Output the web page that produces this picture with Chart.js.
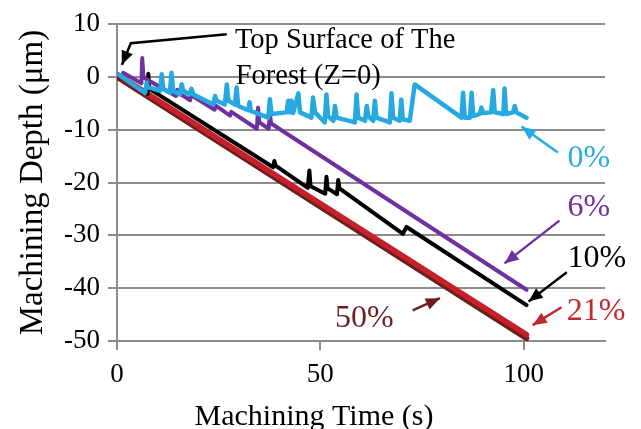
<!DOCTYPE html>
<html>
<head>
<meta charset="utf-8">
<script src="https://cdn.jsdelivr.net/npm/chart.js@4.4.0/dist/chart.umd.min.js"></script>
<style>
  body { margin: 0; background: #fff; }
  canvas { display: block; }
</style>
</head>
<body>
<canvas id="depthChart" width="641" height="429"></canvas>
<script>
// values: time (s) and depth (um) per curve
const yTicks = [-50, -40, -30, -20, -10, 0, 10];
const xTicks = [0, 50, 100];

// 0%
const time0 = [0.3, 6.9, 7.3, 7.6, 10.6, 11.0, 11.4, 13.0, 13.4, 13.8, 15.5, 15.9, 16.3, 17.9, 18.3, 18.8,
  23.7, 24.1, 24.5, 26.5, 27.0, 27.4, 29.0, 29.4, 29.8, 32.3, 32.6, 32.9, 37.2, 37.6, 38.0, 41.7, 42.1, 42.5,
  42.9, 43.3, 44.6, 45.0, 47.8, 48.2, 48.7, 51.1, 51.5, 51.9, 53.2, 53.6, 54.0, 58.5, 58.9, 59.3, 61.0, 61.4,
  61.8, 63.0, 63.4, 63.8, 67.1, 67.5, 67.9, 69.5, 69.9, 70.3, 72.0, 73.2, 84.7, 85.1, 85.5, 86.8, 87.2, 87.6,
  89.2, 89.6, 90.0, 92.0, 92.5, 92.9, 95.0, 95.3, 95.7, 97.4, 97.8, 98.2, 100.7];
const depth0 = [0.5, -3.0, -1.1, -1.9, -2.6, 0.5, -2.3, -3.0, 0.8, -2.6, -3.3, -1.4, -2.6, -3.3, -2.3, -3.3,
  -5.2, -3.6, -4.5, -5.2, -1.4, -4.5, -5.2, -2.0, -5.5, -6.3, -4.8, -6.4, -7.7, -4.2, -7.0, -6.7, -4.5, -6.7,
  -4.5, -6.8, -3.1, -6.7, -7.7, -3.9, -6.7, -8.6, -3.3, -7.4, -8.3, -5.5, -7.7, -8.6, -3.3, -7.7, -8.3, -5.5,
  -7.4, -8.3, -4.5, -7.7, -8.6, -3.1, -7.7, -8.3, -4.3, -8.0, -8.3, -1.4, -7.7, -3.0, -7.7, -7.7, -3.0, -7.4,
  -7.0, -5.8, -6.8, -6.7, -2.5, -6.7, -7.0, -2.2, -7.0, -6.7, -5.5, -6.7, -7.7];

// 6%
const time6 = [1.5, 6.0, 6.2, 6.5, 14.5, 14.8, 15.1, 18.0, 18.3, 18.6, 24.0, 24.3, 27.8, 28.1, 34.4, 34.7, 35.0,
  37.3, 37.6, 37.9, 100.7];
const depth6 = [0.8, -1.2, 3.6, -0.1, -3.6, -2.4, -3.0, -4.4, -2.2, -3.6, -6.2, -5.4, -7.3, -6.6, -9.8, -5.8, -8.6,
  -9.8, -7.0, -8.8, -40.3];

// 10%
const time10 = [0, 7.5, 7.7, 7.9, 38.4, 38.7, 39.0, 46.9, 47.3, 47.6, 51.2, 51.5, 51.8, 54.1, 54.4, 54.7, 70.3, 71.2, 100.7];
const depth10 = [0.5, -3.2, 0.6, -2.2, -17.1, -15.9, -16.8, -21.0, -17.7, -20.7, -22.1, -18.9, -21.1, -22.2, -19.5, -21.1, -29.7, -28.4, -43.2];

// 21%
const time21 = [0, 100.7];
const depth21 = [0.5, -48.8];

// 50%
const time50 = [0, 100.7];
const depth50 = [0.0, -49.5];

function pts(t, d) {
    return t.map(function (v, i) { return { x: v, y: d[i] }; });
}

const serif = '"Liberation Serif", "Times New Roman", serif';

// text labels and arrows drawn on top of the plot
const notes = {
    id: 'notes',
    afterDraw: function (chart) {
        const ctx = chart.ctx;
        const X = function (v) { return chart.scales.x.getPixelForValue(v); };
        const Y = function (v) { return chart.scales.y.getPixelForValue(v); };

        function arrow(path, color) {
            ctx.save();
            ctx.strokeStyle = color;
            ctx.fillStyle = color;
            ctx.lineWidth = 2.5;
            ctx.beginPath();
            path.forEach(function (p, i) {
                if (i === 0) ctx.moveTo(X(p[0]), Y(p[1]));
                else ctx.lineTo(X(p[0]), Y(p[1]));
            });
            const a = path[path.length - 2], b = path[path.length - 1];
            const x1 = X(a[0]), y1 = Y(a[1]), x2 = X(b[0]), y2 = Y(b[1]);
            const ang = Math.atan2(y2 - y1, x2 - x1);
            const len = 14, half = 6;
            const bx = x2 - len * Math.cos(ang), by = y2 - len * Math.sin(ang);
            ctx.stroke();
            ctx.beginPath();
            ctx.moveTo(x2, y2);
            ctx.lineTo(bx + half * Math.sin(ang), by - half * Math.cos(ang));
            ctx.lineTo(bx - half * Math.sin(ang), by + half * Math.cos(ang));
            ctx.closePath();
            ctx.fill();
            ctx.restore();
        }

        function text(str, x, y, color, size) {
            ctx.save();
            ctx.font = size + 'px ' + serif;
            ctx.fillStyle = color;
            ctx.textAlign = 'left';
            ctx.textBaseline = 'alphabetic';
            ctx.fillText(str, X(x), Y(y));
            ctx.restore();
        }

        text('Top Surface of The', 29.0, 5.5, '#000', 28.5);
        text('Forest (Z=0)', 29.2, -1.3, '#000', 28.5);
        arrow([[27.0, 8.1], [3.4, 6.4], [1.2, 2.3]], '#000');

        text('0%', 110.8, -17.0, '#29abe2', 32);
        arrow([[108.4, -14.3], [99.5, -9.4]], '#29abe2');
        text('6%', 110.8, -26.4, '#7030a0', 32);
        arrow([[108.8, -27.2], [95.3, -35.3]], '#7030a0');
        text('10%', 110.8, -36.0, '#000', 32);
        arrow([[110.6, -37.0], [101.2, -42.5]], '#000');
        text('21%', 110.6, -46.0, '#c1272d', 32);
        arrow([[109.3, -43.6], [102.2, -47.0]], '#c1272d');
        text('50%', 53.6, -47.4, '#6b1f1f', 32);
        arrow([[72.7, -44.2], [79.4, -41.9]], '#6b1f1f');

        // axis titles
        ctx.save();
        ctx.fillStyle = '#000';
        ctx.textAlign = 'center';
        ctx.textBaseline = 'alphabetic';
        ctx.font = '30px ' + serif;
        ctx.fillText('Machining Time (s)', 314, 425);
        ctx.translate(42, (chart.chartArea.top + chart.chartArea.bottom) / 2);
        ctx.rotate(-Math.PI / 2);
        ctx.font = '33px ' + serif;
        ctx.fillText('Machining Depth (μm)', 0, 0);
        ctx.restore();
    }
};

const ctx = document.getElementById('depthChart').getContext('2d');
const depthChart = new Chart(ctx, {
    type: 'scatter',
    data: {
        datasets: [
            { label: '0%', data: pts(time0, depth0), borderColor: '#25a9e0', borderWidth: 4.5 },
            { label: '6%', data: pts(time6, depth6), borderColor: '#7030a0', borderWidth: 4 },
            { label: '10%', data: pts(time10, depth10), borderColor: '#000000', borderWidth: 4 },
            { label: '21%', data: pts(time21, depth21), borderColor: '#c8202a', borderWidth: 5.5 },
            { label: '50%', data: pts(time50, depth50), borderColor: '#6b1f1f', borderWidth: 5.5 }
        ].map(function (ds) {
            ds.showLine = true;
            ds.pointRadius = 0;
            ds.tension = 0;
            ds.borderJoinStyle = 'round';
            ds.borderCapStyle = 'round';
            return ds;
        })
    },
    options: {
        responsive: false,
        animation: false,
        layout: { padding: { left: 0, right: 36, top: 23, bottom: 0 } },
        plugins: {
            legend: { display: false },
            tooltip: { enabled: false }
        },
        scales: {
            x: {
                type: 'linear',
                min: 0,
                max: 120,
                afterBuildTicks: function (scale) {
                    scale.ticks = xTicks.map(function (v) { return { value: v }; });
                },
                afterFit: function (scale) { scale.height = 88; },
                grid: { drawOnChartArea: false, color: '#8c8c8c', tickLength: 9, lineWidth: 2 },
                border: { color: '#8c8c8c', width: 2 },
                ticks: { color: '#000', padding: 9, font: { family: serif, size: 27 } }
            },
            y: {
                min: -50,
                max: 10,
                afterBuildTicks: function (scale) {
                    scale.ticks = yTicks.map(function (v) { return { value: v }; });
                },
                afterFit: function (scale) { scale.width = 117; },
                grid: { color: '#8c8c8c', tickLength: 9, lineWidth: 2 },
                border: { color: '#8c8c8c', width: 2 },
                ticks: { color: '#000', padding: 8, font: { family: serif, size: 27 } }
            }
        }
    },
    plugins: [notes]
});
</script>
</body>
</html>
